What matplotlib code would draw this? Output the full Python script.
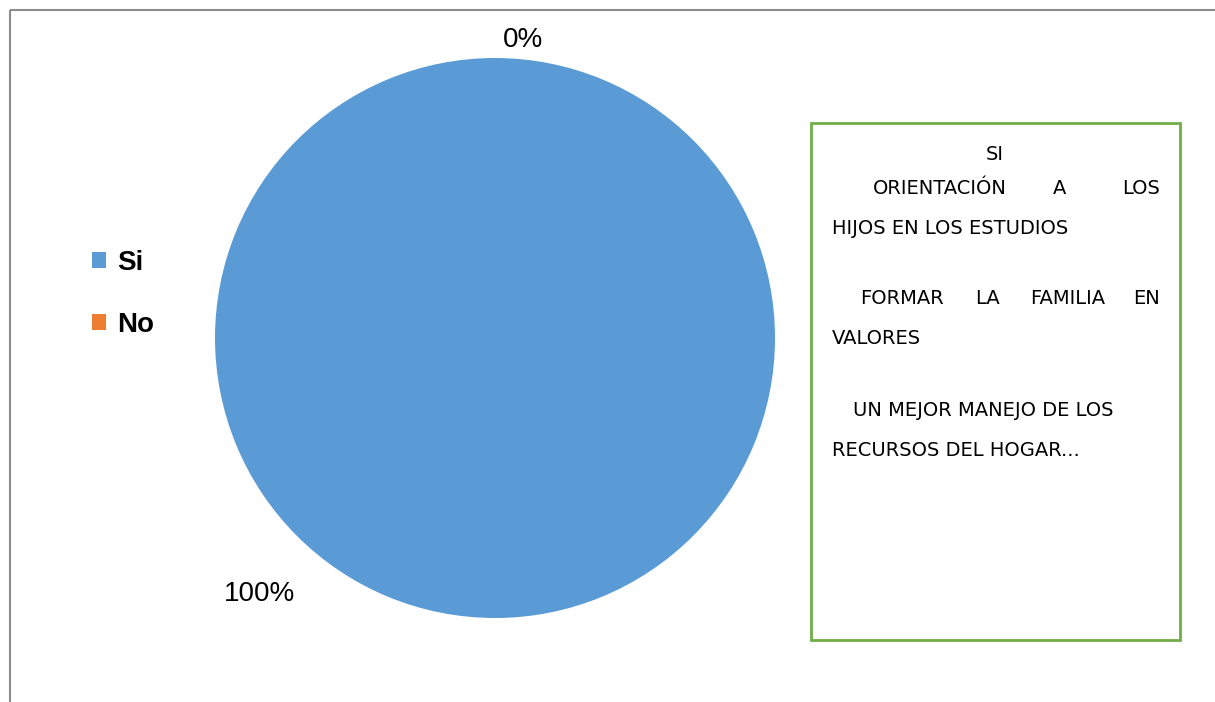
import matplotlib
matplotlib.use("Agg")
import matplotlib.pyplot as plt
from matplotlib.patches import Rectangle

# data
categories = ["Si", "No"]
values = [100, 0]
colors = ["#5B9BD5", "#ED7D31"]
pct_labels = ["100%", "0%"]

fig = plt.figure(figsize=(12.15, 7.02), dpi=100)
ax = fig.add_axes([0, 0, 1, 1])

# pie
wedges, _ = ax.pie(values, colors=colors, center=(495, 338), radius=280,
                   startangle=90, counterclock=False,
                   wedgeprops=dict(linewidth=0))
ax.set_xlim(0, 1215)
ax.set_ylim(702, 0)
ax.set_aspect("equal")
ax.axis("off")

# data labels
ax.text(260, 594, pct_labels[0], ha="center", va="center", fontsize=20,
        family="Liberation Sans")
ax.text(523, 40, pct_labels[1], ha="center", va="center", fontsize=20,
        family="Liberation Sans")

# chart frame (only top and left visible)
ax.add_patch(Rectangle((10, 10), 1300, 800, fill=False, edgecolor="#8C8C8C",
                       linewidth=1.5, clip_on=False))

# legend
leg = ax.legend(wedges, categories, loc="center left",
                bbox_to_anchor=(67 / 1215, 1 - 294 / 702),
                frameon=False, handlelength=0.5, handleheight=0.5,
                handletextpad=0.4, labelspacing=1.3,
                prop=dict(family="Liberation Sans", weight="bold", size=20))

# green note box
ax.add_patch(Rectangle((811, 123), 369, 517, fill=False, edgecolor="#70AD47",
                       linewidth=2))

note_font = dict(family="DejaVu Sans", fontsize=14, color="black", va="center")
ax.text(995, 155, "SI", ha="center", **note_font)
ax.text(873, 188, "ORIENTACIÓN", ha="left", **note_font)
ax.text(1060, 188, "A", ha="center", **note_font)
ax.text(1160, 188, "LOS", ha="right", **note_font)
ax.text(832, 228, "HIJOS EN LOS ESTUDIOS", ha="left", **note_font)
ax.text(860, 298, "FORMAR", ha="left", **note_font)
ax.text(975, 298, "LA", ha="left", **note_font)
ax.text(1030, 298, "FAMILIA", ha="left", **note_font)
ax.text(1160, 298, "EN", ha="right", **note_font)
ax.text(832, 338, "VALORES", ha="left", **note_font)
ax.text(853, 410, "UN MEJOR MANEJO DE LOS", ha="left", **note_font)
ax.text(832, 450, "RECURSOS DEL HOGAR...", ha="left", **note_font)

fig.savefig("out.png", dpi=100)
